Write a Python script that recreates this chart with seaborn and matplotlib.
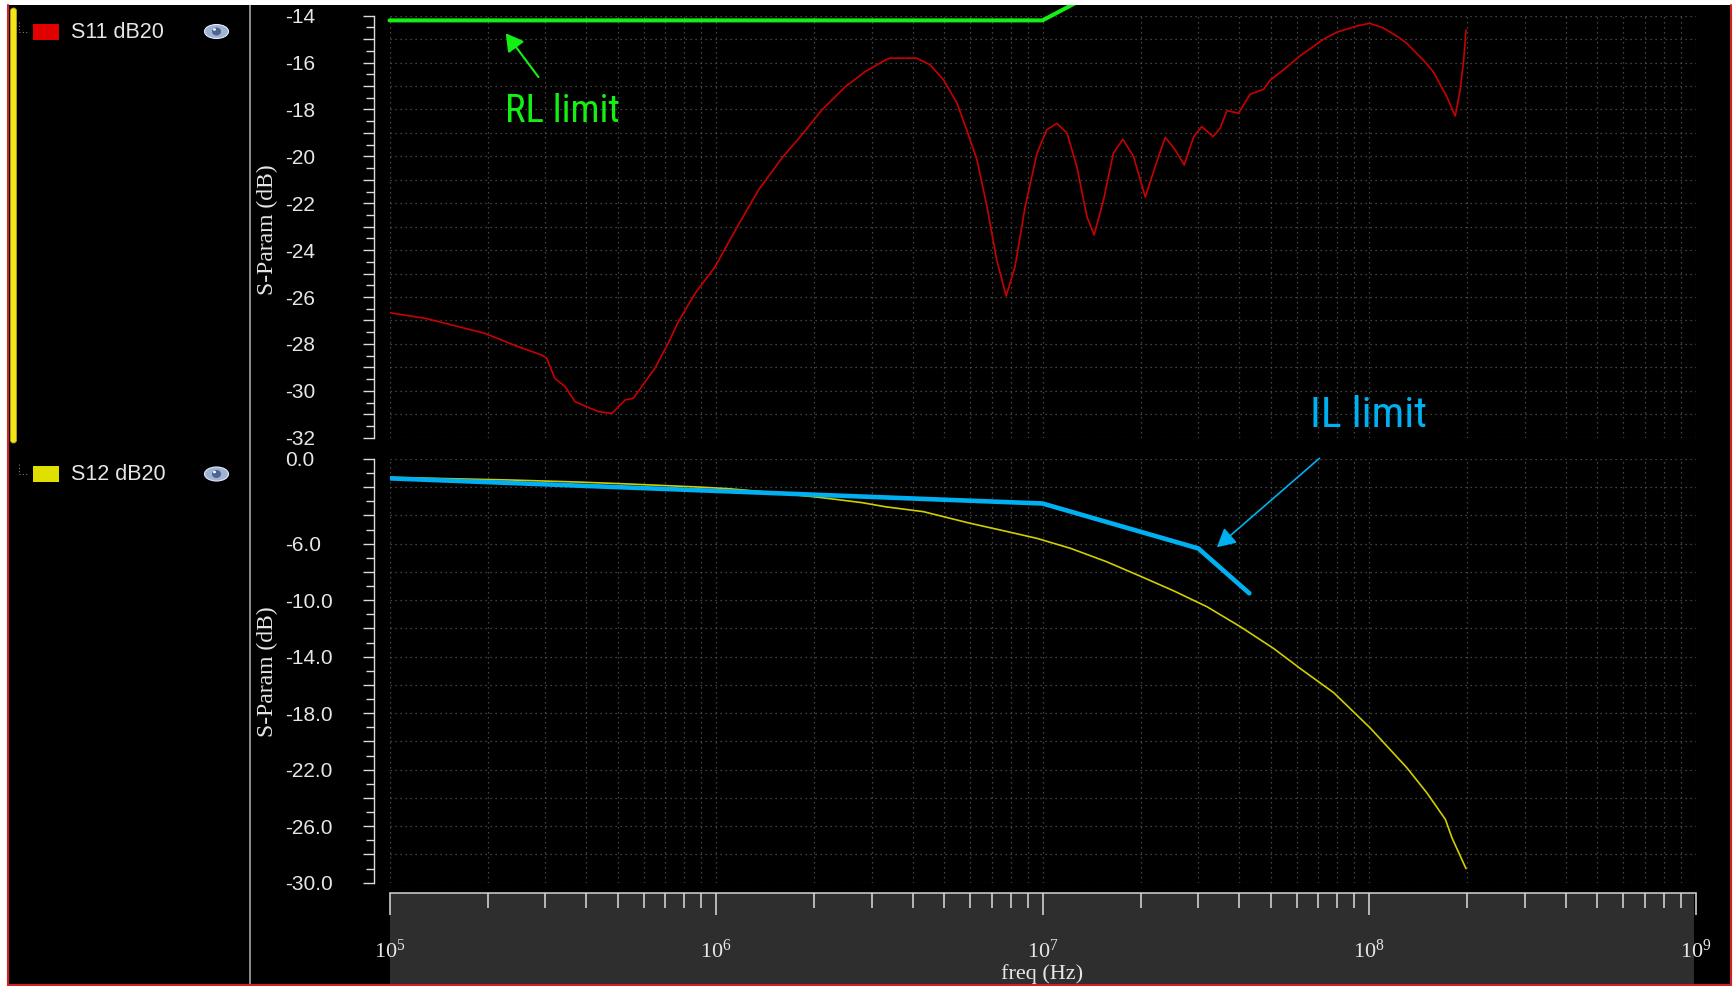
import numpy as np
import matplotlib
matplotlib.use("Agg")
import matplotlib.pyplot as plt
import seaborn as sns
from matplotlib import font_manager as fm
from matplotlib.ticker import MultipleLocator, LogLocator, FuncFormatter, LogFormatterMathtext
from matplotlib.patches import Rectangle, Ellipse, FancyBboxPatch

# ---------------------------------------------------------------- data
# S11 (return loss) sweep, frequency in MHz, magnitude in dB
s11_freq_mhz = [0.100, 0.129, 0.155, 0.196, 0.248, 0.292, 0.303, 0.321, 0.345, 0.370,
                0.397, 0.437, 0.480, 0.527, 0.558, 0.650, 0.714, 0.767, 0.863, 0.993,
                1.17, 1.35, 1.59, 1.83, 2.11, 2.48, 2.86, 3.30, 3.41, 4.12,
                4.53, 4.98, 5.47, 5.86, 6.30, 6.76, 7.24, 7.74, 8.24, 8.85,
                9.62, 10.3, 11.07, 11.89, 12.74, 13.68, 14.39, 15.38, 16.48, 17.62,
                19.01, 20.65, 22.13, 23.77, 25.53, 27.16, 29.04, 30.76, 33.27, 34.99,
                36.73, 39.81, 43.25, 47.53, 49.89, 54.70, 61.66, 72.61, 79.80, 91.83,
                100.5, 110.9, 123.3, 130.3, 146.6, 157.4, 173.0, 183.7, 190.1, 195.0,
                198.2]
s11_db = [-26.67, -26.91, -27.19, -27.55, -28.12, -28.47, -28.61, -29.47, -29.82, -30.46,
          -30.65, -30.89, -30.96, -30.39, -30.32, -29.04, -27.97, -27.05, -25.84, -24.71,
          -22.93, -21.43, -20.08, -19.09, -18.02, -17.05, -16.39, -15.89, -15.81, -15.81,
          -16.10, -16.74, -17.73, -18.87, -20.15, -22.14, -24.42, -25.95, -24.70, -22.14,
          -19.87, -18.87, -18.59, -19.01, -20.44, -22.57, -23.35, -21.86, -19.87, -19.27,
          -20.01, -21.74, -20.44, -19.19, -19.73, -20.37, -19.16, -18.73, -19.16, -18.80,
          -18.05, -18.16, -17.35, -17.14, -16.74, -16.31, -15.70, -15.00, -14.70, -14.44,
          -14.32, -14.53, -14.92, -15.17, -15.89, -16.39, -17.45, -18.28, -17.17, -15.89,
          -14.61]

# S12 (insertion loss) sweep
s12_freq_mhz = [0.1, 0.237, 0.375, 0.514, 0.679, 0.873, 1.09, 1.5, 2.06, 2.37,
                2.80, 3.30, 4.32, 6.0, 7.60, 9.62, 12.2, 15.7, 19.9, 25.2,
                31.9, 40.4, 51.0, 61.7, 78.0, 100.9, 130.6, 150.3, 171.4, 179.5,
                198.2]
s12_db = [-1.30, -1.49, -1.63, -1.75, -1.87, -1.98, -2.10, -2.38, -2.71, -2.88,
          -3.09, -3.38, -3.73, -4.55, -5.08, -5.62, -6.33, -7.27, -8.29, -9.33,
          -10.46, -11.88, -13.41, -14.85, -16.55, -19.05, -21.86, -23.63, -25.52, -26.82,
          -29.0]

# limit masks
rl_limit_freq_mhz = [0.1, 10, 30]
rl_limit_db = [-14.2, -14.2, -10.7]
il_limit_freq_mhz = [0.1, 10, 30, 43]
il_limit_db = [-1.37, -3.15, -6.33, -9.51]

trace_names = ["S11 dB20", "S12 dB20"]
s11_ylim = (-32, -14)
s12_ylim = (-30, 0)
s12_labelled_ticks = [0, -6, -10, -14, -18, -22, -26, -30]
freq_range_hz = (1e5, 1e9)

# ---------------------------------------------------------------- style
W, H = 1735, 986
FG = "#e6e6e6"
RED, YEL = "#c80000", "#cfcf00"
GREEN, BLUE = "#14f014", "#00b0f0"

sns.set_theme(style="dark", rc={
    "figure.facecolor": "white",
    "axes.facecolor": "black",
    "axes.edgecolor": "#dcdcdc",
    "text.color": FG,
    "axes.labelcolor": FG,
    "xtick.color": "#dcdcdc",
    "ytick.color": "#dcdcdc",
})
plt.rcParams["font.family"] = ["Liberation Sans", "DejaVu Sans"]


def narrow_font():
    """Pick a condensed sans face for the call-out labels, if one is installed."""
    def wnum(f):
        w = f.weight
        return w if isinstance(w, (int, float)) else fm.weight_dict.get(w, 400)

    cands = [f for f in fm.fontManager.ttflist
             if f.stretch == "condensed" and f.style == "normal" and 380 <= wnum(f) <= 520
             and "mono" not in f.name.lower()]

    def rank(f):
        fn = f.fname.lower()
        order = ["Liberation Sans Narrow", "Roboto Condensed", "Open Sans", "Noto Sans",
                 "DejaVu Sans", "Lato", "Inter"]
        r = order.index(f.name) if f.name in order else len(order)
        penalty = 0
        if "extra" in fn or "ultra" in fn:
            penalty = 2
        elif "semi" in fn:
            penalty = 1
        return (penalty, r)

    if cands:
        best = sorted(cands, key=rank)[0]
        return fm.FontProperties(fname=best.fname)
    return fm.FontProperties(family=["Liberation Sans", "DejaVu Sans"])


fig = plt.figure(figsize=(W / 100, H / 100), dpi=100)


def px_rect(x0, y0, x1, y1):
    return [x0 / W, 1 - y1 / H, (x1 - x0) / W, (y1 - y0) / H]


def pixel_axes(z):
    a = fig.add_axes([0, 0, 1, 1], zorder=z)
    a.set_xlim(0, W)
    a.set_ylim(H, 0)
    a.axis("off")
    a.patch.set_alpha(0)
    return a


# window chrome behind the plots
bg = pixel_axes(-10)
bg.add_patch(Rectangle((7, 5), 1725, 980, fc="black", ec="none"))
bg.add_patch(Rectangle((389.5, 893), 1694 - 389.5, 93, fc="#2e2e2e", ec="none"))
bg.plot([250, 250], [5, 985], color="#8c8c8c", lw=1.4)
bg.add_patch(FancyBboxPatch((10.5, 8), 6, 435, boxstyle="round,pad=0,rounding_size=3",
                            fc="#f4e41c", ec="#b8a800", lw=0.6))

for name, colour, yc in [(trace_names[0], "#e00000", 31.5), (trace_names[1], "#e0e000", 474)]:
    bg.plot([19, 19], [yc - 10, yc], color="#7a7a7a", lw=0.8, ls=(0, (1, 2)))
    bg.plot([19, 28], [yc, yc], color="#7a7a7a", lw=0.8, ls=(0, (1, 2)))
    bg.add_patch(Rectangle((33, yc - 8), 26, 16, fc=colour, ec="none"))
    bg.text(71, yc + 0.5, name, ha="left", va="center", fontsize=15.5, color=FG,
            family=["Liberation Sans", "DejaVu Sans"])
    bg.add_patch(Ellipse((216.5, yc), 24, 14, fc="#9fb3d3", ec="#e4ecf8", lw=0.8))
    bg.add_patch(Ellipse((216.5, yc), 9, 8, fc="#4f6490", ec="none"))
    bg.add_patch(Ellipse((214.5, yc - 2), 3, 2.5, fc="white", ec="none"))

# ---------------------------------------------------------------- plots
ax1 = fig.add_axes(px_rect(389.5, 15.7, 1695.5, 437.7))
ax2 = fig.add_axes(px_rect(389.5, 459.0, 1695.5, 882.7))

grid_kw = dict(color="#575757", linestyle=(0, (1, 3)), linewidth=0.9)


def style_axes(ax, ylim, major, minor, fmt):
    ax.set_xscale("log")
    ax.set_xlim(*freq_range_hz)
    ax.set_ylim(*ylim)
    ax.set_facecolor("black")
    for s in ("top", "right", "bottom"):
        ax.spines[s].set_visible(False)
    ax.spines["left"].set_position(("outward", 11.2))
    ax.spines["left"].set_color("#dcdcdc")
    ax.spines["left"].set_linewidth(1.0)
    ax.yaxis.set_major_locator(MultipleLocator(major))
    ax.yaxis.set_minor_locator(MultipleLocator(minor))
    ax.yaxis.set_major_formatter(FuncFormatter(fmt))
    ax.tick_params(axis="y", which="major", left=True, direction="out", length=7.9,
                   width=1.0, pad=56.2, labelsize=15, labelcolor=FG,
                   labelfontfamily="Liberation Sans")
    ax.tick_params(axis="y", which="minor", left=True, direction="out", length=5.8, width=1.0)
    ax.xaxis.set_major_locator(LogLocator(base=10, numticks=10))
    ax.xaxis.set_minor_locator(LogLocator(base=10, subs=np.arange(2, 10), numticks=100))
    ax.xaxis.grid(True, which="both", **grid_kw)
    ax.yaxis.grid(True, which="major", **grid_kw)
    ax.set_axisbelow(True)
    for t in ax.yaxis.get_major_ticks():
        t.label1.set_horizontalalignment("left")
    ax.set_xlabel("")
    ax.set_ylabel("")


def fmt_s11(v, pos):
    return f"{v:.0f}" if int(round(v)) % 2 == 0 else ""


def fmt_s12(v, pos):
    if abs(v) < 1e-9:
        return "0.0"
    return f"{v:.1f}" if int(round(v)) in s12_labelled_ticks else ""


s11_hz = np.array(s11_freq_mhz) * 1e6
s12_hz = np.array(s12_freq_mhz) * 1e6
rl_hz = np.array(rl_limit_freq_mhz) * 1e6
il_hz = np.array(il_limit_freq_mhz) * 1e6

style_axes(ax1, s11_ylim, 1, 0.5, fmt_s11)
style_axes(ax2, s12_ylim, 2, 1, fmt_s12)

sns.lineplot(x=s11_hz, y=s11_db, ax=ax1, color=RED, lw=1.2, legend=False)
sns.lineplot(x=rl_hz, y=rl_limit_db, ax=ax1, color=GREEN, lw=2.9, legend=False,
             clip_on=False, zorder=4, solid_joinstyle="miter")
sns.lineplot(x=s12_hz, y=s12_db, ax=ax2, color=YEL, lw=1.2, legend=False)
sns.lineplot(x=il_hz, y=il_limit_db, ax=ax2, color=BLUE, lw=3.3, legend=False, zorder=4)

# upper plot: no frequency axis of its own
ax1.tick_params(axis="x", which="both", bottom=False, labelbottom=False)

# lower plot: frequency rail on the grey band
ax2.spines["bottom"].set_visible(True)
ax2.spines["bottom"].set_position(("outward", 7.2))
ax2.spines["bottom"].set_color("#d4d4d4")
ax2.spines["bottom"].set_linewidth(1.1)
ax2.xaxis.set_major_formatter(LogFormatterMathtext())
ax2.tick_params(axis="x", which="major", bottom=True, direction="out", length=15.8,
                width=1.1, pad=18, labelsize=16, labelcolor=FG,
                labelfontfamily="Liberation Serif")
ax2.tick_params(axis="x", which="minor", bottom=True, direction="out", length=10.8, width=1.1)

for ax, yc in ((ax1, 0.492), (ax2, 0.497)):
    ax.set_ylabel("S-Param (dB)", fontsize=17, family="Liberation Serif", color=FG)
    ax.yaxis.label.set_va("center")
    ax.yaxis.set_label_coords(-0.0934, yc)
ax2.set_xlabel("freq (Hz)", fontsize=16, family="Liberation Serif", color=FG)
ax2.xaxis.set_label_coords(0.5, -0.193)

# limit call-outs
callout_fp = narrow_font()
ax1.annotate("", xy=(0.227e6, -14.75), xytext=(0.286e6, -16.62), annotation_clip=False,
             arrowprops=dict(arrowstyle="-|>,head_length=0.7,head_width=0.4",
                             mutation_scale=15, color=GREEN, lw=1.5,
                             shrinkA=0, shrinkB=0))
rl_txt = ax1.text(0.226e6, -18.53, "RL limit", ha="left", va="baseline",
                  color=GREEN, fontproperties=callout_fp)
il_txt = ax1.text(1.0e8, -31.55, "IL limit", ha="center", va="baseline",
                  color=BLUE, fontproperties=callout_fp)
ax2.annotate("", xy=(34.2e6, -6.25), xytext=(70.5e6, 0.05), annotation_clip=False,
             arrowprops=dict(arrowstyle="-|>,head_length=0.75,head_width=0.4",
                             mutation_scale=15, color=BLUE, lw=1.2,
                             shrinkA=0, shrinkB=0))

# size each call-out to its span on the plot (px)
for t, span, cap in ((rl_txt, 115.0, 31.0), (il_txt, 117.0, 33.0)):
    t.set_fontsize(30)
fig.canvas.draw()
for t, span, cap in ((rl_txt, 115.0, 31.0), (il_txt, 117.0, 33.0)):
    w = t.get_window_extent().width
    t.set_fontsize(min(cap, 30.0 * span / w))

# window edge on top of everything
ov = pixel_axes(10)
ov.add_patch(Rectangle((0, 0), W, 5, fc="white", ec="none"))
ov.plot([8, 8], [5, 985], color="#d02020", lw=1.5)
ov.plot([1731, 1731], [5, 985], color="#d02020", lw=1.5)
ov.plot([8, 1731], [984.5, 984.5], color="#d02020", lw=1.5)

fig.savefig("out.png", dpi=100, facecolor="white")
